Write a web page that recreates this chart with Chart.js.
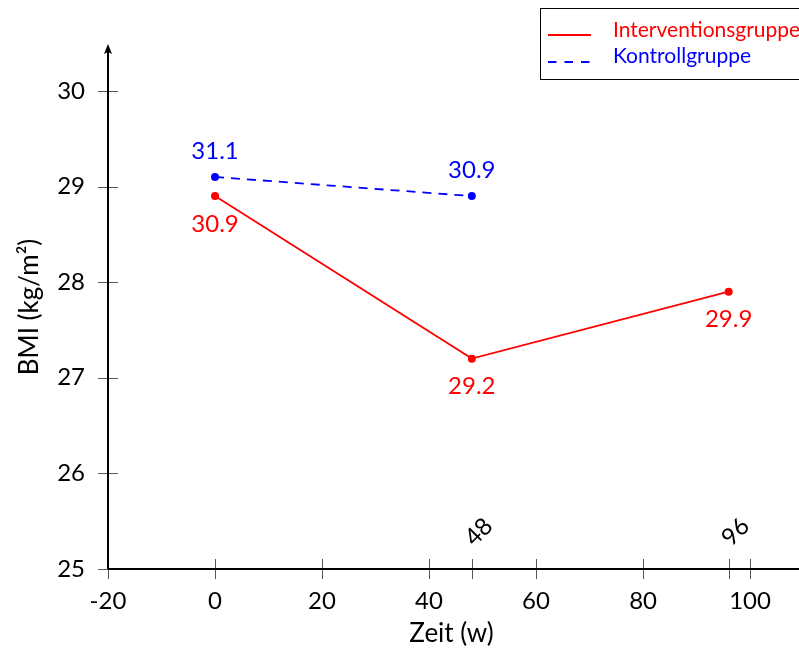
<!DOCTYPE html>
<html>
<head>
<meta charset="utf-8">
<script src="https://cdn.jsdelivr.net/npm/chart.js"></script>
<style>
  html, body { margin: 0; padding: 0; background: #fff; }
  #wrap { width: 799px; height: 653px; }
</style>
</head>
<body>
<div id="wrap"><canvas id="bmiChart" width="799" height="653"></canvas></div>
<script>
// DATA
const weeks = [0, 48, 96];
const interventionBmi = [28.9, 27.2, 27.9];
const interventionLabels = ["30.9", "29.2", "29.9"];
const controlWeeks = [0, 48];
const controlBmi = [29.1, 28.9];
const controlLabels = ["31.1", "30.9"];
const extraTicks = [48, 96];
const seriesNames = ["Interventionsgruppe", "Kontrollgruppe"];

const FONT = "Lato, 'Liberation Sans', sans-serif";
const RED = "#ff0000";
const BLUE = "#0000ff";

// axes, tick marks, arrows, point labels, legend
const decorations = {
    id: "decorations",
    beforeDatasetsDraw(chart) {
        const ctx = chart.ctx;
        const xs = chart.scales.x, ys = chart.scales.y;
        const ax = chart.chartArea.left, ay = chart.chartArea.bottom;
        ctx.save();
        // tick marks crossing the axes
        ctx.strokeStyle = "#555";
        ctx.lineWidth = 1;
        ctx.beginPath();
        xs.ticks.map(t => t.value).concat(extraTicks).forEach(v => {
            const px = Math.round(xs.getPixelForValue(v)) + 0.5;
            ctx.moveTo(px, ay - 10);
            ctx.lineTo(px, ay + 10);
        });
        ys.ticks.forEach(t => {
            const py = Math.round(ys.getPixelForValue(t.value)) + 0.5;
            ctx.moveTo(ax - 10, py);
            ctx.lineTo(ax + 10, py);
        });
        ctx.stroke();
        // axis lines
        ctx.strokeStyle = "#000";
        ctx.lineWidth = 2;
        ctx.beginPath();
        ctx.moveTo(ax, ay);
        ctx.lineTo(ax, chart.chartArea.top + 6);
        ctx.moveTo(ax, ay);
        ctx.lineTo(chart.width, ay);
        ctx.stroke();
        ctx.fillStyle = "#000";
        ctx.beginPath();
        ctx.moveTo(ax, chart.chartArea.top - 1);
        ctx.lineTo(ax - 4, chart.chartArea.top + 9);
        ctx.lineTo(ax, chart.chartArea.top + 7);
        ctx.lineTo(ax + 4, chart.chartArea.top + 9);
        ctx.closePath();
        ctx.fill();
        // rotated labels of the extra ticks
        ctx.font = "24px " + FONT;
        ctx.textAlign = "center";
        ctx.textBaseline = "middle";
        extraTicks.forEach(v => {
            ctx.save();
            ctx.translate(xs.getPixelForValue(v) + 7, ay - 37);
            ctx.rotate(-Math.PI / 4);
            ctx.fillText(String(v), 0, 0);
            ctx.restore();
        });
        ctx.restore();
    },
    afterDatasetsDraw(chart) {
        const ctx = chart.ctx;
        ctx.save();
        ctx.font = "24px " + FONT;
        ctx.textAlign = "center";
        ctx.textBaseline = "middle";
        const sets = [[0, interventionLabels, 28], [1, controlLabels, -26]];
        sets.forEach(([i, labels, dy]) => {
            const meta = chart.getDatasetMeta(i);
            ctx.fillStyle = chart.data.datasets[i].borderColor;
            meta.data.forEach((pt, j) => {
                ctx.fillText(labels[j], pt.x, pt.y + dy);
            });
        });
        ctx.restore();
    },
    afterDraw(chart) {
        const ctx = chart.ctx;
        ctx.save();
        ctx.strokeStyle = "#000";
        ctx.lineWidth = 1;
        ctx.strokeRect(540.5, 8.5, 270, 71);
        ctx.font = "21px " + FONT;
        ctx.textAlign = "left";
        ctx.textBaseline = "alphabetic";
        const rows = [[RED, [], 35, 37], [BLUE, [8.5, 8], 62, 63]];
        rows.forEach(([col, dash, ly, ty], i) => {
            ctx.strokeStyle = col;
            ctx.lineWidth = 1.8;
            ctx.setLineDash(dash);
            ctx.beginPath();
            ctx.moveTo(548, ly);
            ctx.lineTo(591, ly);
            ctx.stroke();
            ctx.fillStyle = col;
            ctx.fillText(seriesNames[i], 613, ty);
        });
        ctx.restore();
    }
};

new Chart(document.getElementById("bmiChart"), {
    type: "line",
    data: {
        datasets: [{
            label: seriesNames[0],
            data: weeks.map((w, i) => ({ x: w, y: interventionBmi[i] })),
            borderColor: RED,
            backgroundColor: RED,
            borderWidth: 1.8,
            pointRadius: 4,
            pointBorderWidth: 0,
            tension: 0
        }, {
            label: seriesNames[1],
            data: controlWeeks.map((w, i) => ({ x: w, y: controlBmi[i] })),
            borderColor: BLUE,
            backgroundColor: BLUE,
            borderWidth: 1.8,
            borderDash: [9, 7],
            pointRadius: 4,
            pointBorderWidth: 0,
            tension: 0
        }]
    },
    options: {
        responsive: false,
        animation: false,
        layout: { padding: { top: 45, left: 0, right: 0, bottom: 0 } },
        plugins: {
            legend: { display: false },
            tooltip: { enabled: false }
        },
        scales: {
            x: {
                type: "linear",
                min: -20,
                max: 108.4,
                grid: { display: false, drawTicks: false },
                border: { display: false },
                ticks: {
                    stepSize: 20,
                    includeBounds: false,
                    padding: 18,
                    color: "#000",
                    font: { family: FONT, size: 24 },
                    maxRotation: 0
                },
                title: {
                    display: true,
                    text: "Zeit (w)",
                    color: "#000",
                    font: { family: FONT, size: 26 },
                    padding: { top: 0, bottom: 4 }
                },
                afterFit: s => { s.height = 84; }
            },
            y: {
                min: 25,
                max: 30.48,
                grid: { display: false, drawTicks: false },
                border: { display: false },
                ticks: {
                    stepSize: 1,
                    includeBounds: false,
                    padding: 23,
                    color: "#000",
                    font: { family: FONT, size: 24 }
                },
                title: {
                    display: true,
                    text: "BMI (kg/m²)",
                    color: "#000",
                    font: { family: FONT, size: 26 },
                    padding: { top: 14, bottom: 0 }
                },
                afterFit: s => { s.width = 108; }
            }
        }
    },
    plugins: [decorations]
});
</script>
</body>
</html>
